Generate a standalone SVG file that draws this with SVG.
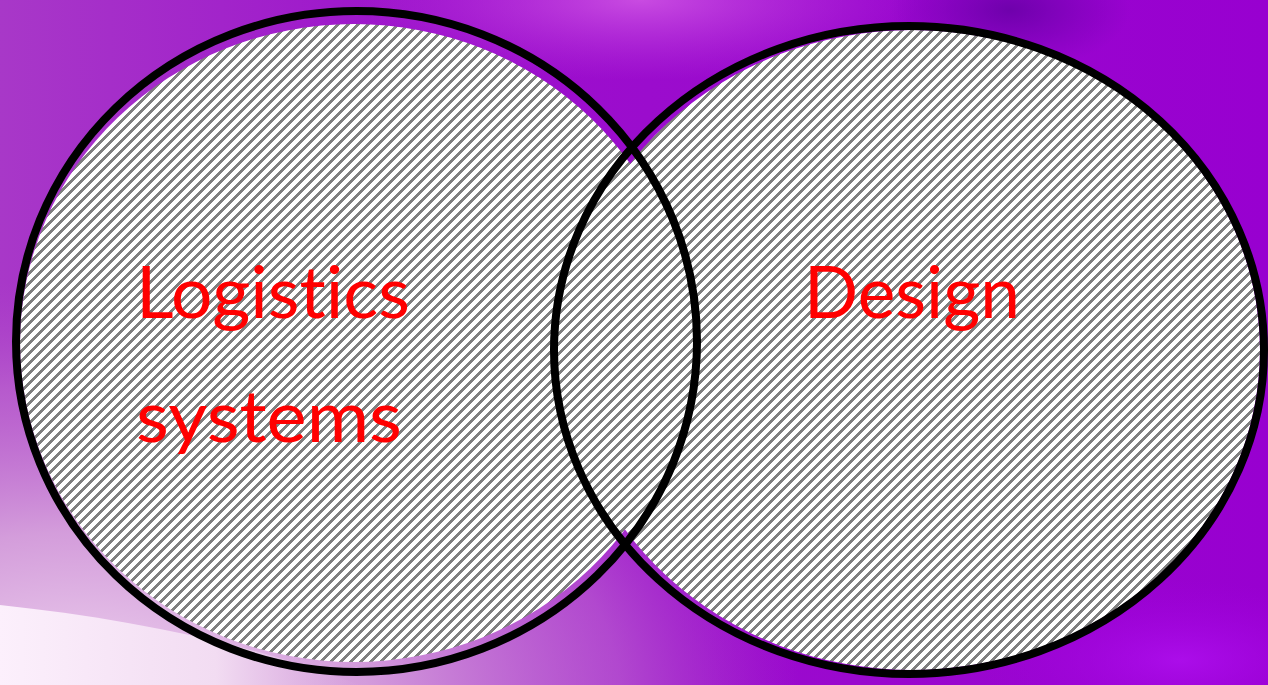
<svg xmlns="http://www.w3.org/2000/svg" width="1268" height="685" viewBox="0 0 1268 685">
  <defs>
    <pattern id="hatch" patternUnits="userSpaceOnUse" width="10" height="10">
      <rect width="10" height="10" fill="#ffffff"/>
      <path fill="#808080" shape-rendering="crispEdges" d="M0 0h4v1h-4z M0 1h3v1h-3z M9 1h1v1h-1z M0 2h2v1h-2z M8 2h2v1h-2z M0 3h1v1h-1z M7 3h3v1h-3z M6 4h4v1h-4z M5 5h4v1h-4z M4 6h4v1h-4z M3 7h4v1h-4z M2 8h4v1h-4z M1 9h4v1h-4z"/>
    </pattern>
    <linearGradient id="bgBase" x1="0" y1="0" x2="1" y2="0">
      <stop offset="0" stop-color="#a838c8"/>
      <stop offset="0.35" stop-color="#9c10cc"/>
      <stop offset="1" stop-color="#9800d0"/>
    </linearGradient>
    <radialGradient id="bgLeft" cx="0.5" cy="0.5" r="0.5">
      <stop offset="0" stop-color="#f0d8f0" stop-opacity="1"/>
      <stop offset="0.4" stop-color="#d6a2dc" stop-opacity="0.95"/>
      <stop offset="0.75" stop-color="#c070d0" stop-opacity="0.6"/>
      <stop offset="1" stop-color="#b050c8" stop-opacity="0"/>
    </radialGradient>
    <linearGradient id="bgLow" x1="0" y1="0" x2="1" y2="0">
      <stop offset="0" stop-color="#fcf0fc"/>
      <stop offset="0.6" stop-color="#f2dcf2"/>
      <stop offset="1" stop-color="#e0b8e4" stop-opacity="0"/>
    </linearGradient>
    <radialGradient id="bgTop" cx="0.5" cy="0.5" r="0.5">
      <stop offset="0" stop-color="#d860e8" stop-opacity="0.75"/>
      <stop offset="1" stop-color="#c040e0" stop-opacity="0"/>
    </radialGradient>
    <radialGradient id="bgTR" cx="0.5" cy="0.5" r="0.5">
      <stop offset="0" stop-color="#6a00a8" stop-opacity="0.9"/>
      <stop offset="1" stop-color="#7000b0" stop-opacity="0"/>
    </radialGradient>
    <radialGradient id="bgBR" cx="0.5" cy="0.5" r="0.5">
      <stop offset="0" stop-color="#b010f0" stop-opacity="0.8"/>
      <stop offset="1" stop-color="#a000e0" stop-opacity="0"/>
    </radialGradient>
    <style>
      .fill { fill: url(#hatch); stroke: none; }
      .outline { fill: none; stroke: #000000; stroke-width: 8; }
      .label { font-family: "Lato", "Open Sans", "Liberation Sans", sans-serif; font-size: 72px; fill: #ff0000; font-variant-ligatures: none; font-feature-settings: "liga" 0; }
    </style>
  </defs>

  <g id="background">
    <rect width="1268" height="685" fill="url(#bgBase)"/>
    <ellipse cx="80" cy="700" rx="720" ry="420" fill="url(#bgLeft)"/>
    <path d="M0 605 C120 618 240 640 360 685 L0 685 Z" fill="url(#bgLow)"/>
    <ellipse cx="640" cy="0" rx="280" ry="80" fill="url(#bgTop)"/>
    <ellipse cx="1010" cy="10" rx="120" ry="60" fill="url(#bgTR)"/>
    <ellipse cx="1180" cy="660" rx="200" ry="80" fill="url(#bgBR)"/>
  </g>

  <g id="node-logistics">
    <ellipse class="fill" cx="354" cy="343" rx="334" ry="319"/>
  </g>
  <g id="node-design">
    <ellipse class="fill" cx="912.6" cy="350" rx="347.4" ry="320"/>
  </g>

  <g id="connectors"></g>

  <g id="outlines">
    <ellipse class="outline" cx="356.5" cy="341.5" rx="340.5" ry="330.5"/>
    <ellipse class="outline" cx="909" cy="350" rx="355" ry="324"/>
  </g>

  <g id="labels">
    <text class="label" x="136" y="318" textLength="274" lengthAdjust="spacingAndGlyphs">Logistics</text>
    <text class="label" x="136" y="442" textLength="266" lengthAdjust="spacingAndGlyphs">systems</text>
    <text class="label" x="804" y="318" textLength="216" lengthAdjust="spacingAndGlyphs">Design</text>
  </g>
</svg>
